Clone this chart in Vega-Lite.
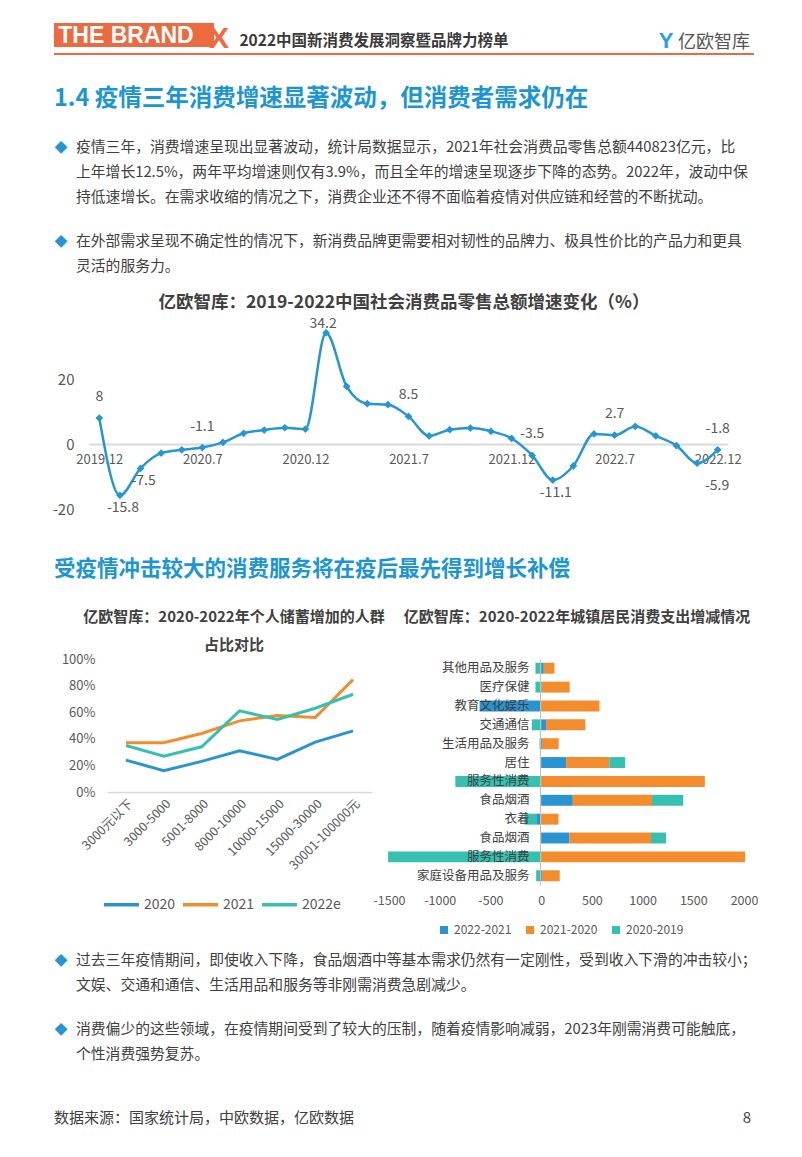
{
  "$schema": "https://vega.github.io/schema/vega-lite/v6.json",
  "padding": {"left": 52, "top": 23, "right": 0, "bottom": 0},
  "background": "white",
  "bounds": "flush",
  "spacing": 0,
  "resolve": {"scale": {"color": "independent"}, "legend": {"color": "independent"}},
  "config": {
    "view": {"stroke": null},
    "font": "Noto Sans CJK SC",
    "text": {"font": "Noto Sans CJK SC"},
    "axis": {"labelFont": "Noto Sans CJK SC"},
    "legend": {"labelFont": "Noto Sans CJK SC"}
  },
  "vconcat": [
    {
      "hconcat": [
        {
          "width": 160, "height": 24,
          "view": {"fill": "#ec6a3f", "stroke": null},
          "data": {"values": [{"t": "THE BRAND"}]},
          "mark": {"type": "text", "font": "Liberation Sans", "fontWeight": "bold", "fontSize": 23, "color": "white", "dx": -8, "dy": 1},
          "encoding": {"text": {"field": "t"}}
        },
        {
          "width": 20, "height": 24,
          "data": {"values": [{"t": "X"}]},
          "mark": {"type": "text", "font": "Liberation Sans", "fontWeight": "bold", "fontSize": 30, "color": "#ec6a3f", "dx": -5, "dy": 4},
          "encoding": {"text": {"field": "t"}}
        },
        {
          "width": 280, "height": 24,
          "data": {"values": [{"t": "2022中国新消费发展洞察暨品牌力榜单"}]},
          "mark": {"type": "text", "fontWeight": "bold", "fontSize": 15.5, "color": "#3a3a3a", "dy": 6},
          "encoding": {"text": {"field": "t"}}
        },
        {
          "width": 144, "height": 24,
          "data": {"values": [{}]},
          "mark": "text",
          "encoding": {"text": {"value": ""}}
        },
        {
          "width": 16, "height": 24,
          "data": {"values": [{"t": "Y"}]},
          "mark": {"type": "text", "font": "Liberation Sans", "fontWeight": "bold", "fontSize": 22, "color": "#2aa0da", "dy": 6},
          "encoding": {"text": {"field": "t"}}
        },
        {
          "width": 80, "height": 24,
          "data": {"values": [{"t": "亿欧智库"}]},
          "mark": {"type": "text", "fontSize": 18, "color": "#555555", "dy": 8},
          "encoding": {"text": {"field": "t"}}
        }
      ],
      "spacing": 0,
      "bounds": "flush"
    },
    {
      "width": 700, "height": 30,
      "data": {"values": [{}]},
      "mark": "text",
      "encoding": {"text": {"value": ""}}
    },
    {
      "width": 700, "height": 2,
      "view": {"fill": "#ec6a3f", "stroke": null},
      "data": {"values": [{}]},
      "mark": "text",
      "encoding": {"text": {"value": ""}}
    },
    {
      "width": 700, "height": 80,
      "data": {"values": [{"t": "1.4 疫情三年消费增速显著波动，但消费者需求仍在"}]},
      "mark": {"type": "text", "align": "left", "dx": -350, "dy": 4, "fontSize": 23.5, "fontWeight": "bold", "color": "#1c96d3"},
      "encoding": {"text": {"field": "t"}}
    },
    {
      "width": 700, "height": 76,
      "data": {"values": [
        {"line": 1, "bullet": true, "text": "疫情三年，消费增速呈现出显著波动，统计局数据显示，2021年社会消费品零售总额440823亿元，比"},
        {"line": 2, "bullet": false, "text": "上年增长12.5%，两年平均增速则仅有3.9%，而且全年的增速呈现逐步下降的态势。2022年，波动中保"},
        {"line": 3, "bullet": false, "text": "持低速增长。在需求收缩的情况之下，消费企业还不得不面临着疫情对供应链和经营的不断扰动。"}
      ]},
      "encoding": {"y": {"field": "line", "type": "ordinal", "axis": null}},
      "layer": [
        {"transform": [{"filter": "datum.bullet"}], "mark": {"type": "text", "dx": -343, "fontSize": 13, "color": "#2596d1"}, "encoding": {"text": {"value": "◆"}}},
        {"mark": {"type": "text", "align": "left", "dx": -328, "fontSize": 14.8, "color": "#404040"}, "encoding": {"text": {"field": "text"}}}
      ]
    },
    {
      "width": 700, "height": 18,
      "data": {"values": [{}]},
      "mark": "text",
      "encoding": {"text": {"value": ""}}
    },
    {
      "width": 700, "height": 51,
      "data": {"values": [
        {"line": 1, "bullet": true, "text": "在外部需求呈现不确定性的情况下，新消费品牌更需要相对韧性的品牌力、极具性价比的产品力和更具"},
        {"line": 2, "bullet": false, "text": "灵活的服务力。"}
      ]},
      "encoding": {"y": {"field": "line", "type": "ordinal", "axis": null}},
      "layer": [
        {"transform": [{"filter": "datum.bullet"}], "mark": {"type": "text", "dx": -343, "fontSize": 13, "color": "#2596d1"}, "encoding": {"text": {"value": "◆"}}},
        {"mark": {"type": "text", "align": "left", "dx": -328, "fontSize": 14.8, "color": "#404040"}, "encoding": {"text": {"field": "text"}}}
      ]
    },
    {
      "width": 700, "height": 34,
      "data": {"values": [{"t": "亿欧智库：2019-2022中国社会消费品零售总额增速变化（%）"}]},
      "mark": {"type": "text", "dy": 6, "fontSize": 17.5, "fontWeight": "bold", "color": "#404040"},
      "encoding": {"text": {"field": "t"}}
    },
    {
      "width": 700, "height": 195,
      "data": {"values": [
        {"m": "2019.12", "v": 8, "show": true},
        {"m": "2020.3", "v": -15.8, "show": true},
        {"m": "2020.4", "v": -7.5, "show": true},
        {"m": "2020.5", "v": -2.8, "show": false},
        {"m": "2020.6", "v": -1.8, "show": false},
        {"m": "2020.7", "v": -1.1, "show": true},
        {"m": "2020.8", "v": 0.5, "show": false},
        {"m": "2020.9", "v": 3.3, "show": false},
        {"m": "2020.10", "v": 4.3, "show": false},
        {"m": "2020.11", "v": 5.0, "show": false},
        {"m": "2020.12", "v": 4.6, "show": false},
        {"m": "2021.3", "v": 34.2, "show": true},
        {"m": "2021.4", "v": 17.7, "show": false},
        {"m": "2021.5", "v": 12.4, "show": false},
        {"m": "2021.6", "v": 12.1, "show": false},
        {"m": "2021.7", "v": 8.5, "show": true},
        {"m": "2021.8", "v": 2.5, "show": false},
        {"m": "2021.9", "v": 4.4, "show": false},
        {"m": "2021.10", "v": 4.9, "show": false},
        {"m": "2021.11", "v": 3.9, "show": false},
        {"m": "2021.12", "v": 1.7, "show": false},
        {"m": "2022.3", "v": -3.5, "show": true},
        {"m": "2022.4", "v": -11.1, "show": true},
        {"m": "2022.5", "v": -6.7, "show": false},
        {"m": "2022.6", "v": 3.1, "show": false},
        {"m": "2022.7", "v": 2.7, "show": true},
        {"m": "2022.8", "v": 5.4, "show": false},
        {"m": "2022.9", "v": 2.5, "show": false},
        {"m": "2022.10", "v": -0.5, "show": false},
        {"m": "2022.11", "v": -5.9, "show": true},
        {"m": "2022.12", "v": -1.8, "show": true}
      ]},
      "encoding": {
        "x": {
          "field": "m", "type": "ordinal", "sort": null,
          "scale": {"type": "point", "range": [35, 674], "padding": 0.5},
          "axis": {"values": ["2019.12", "2020.7", "2020.12", "2021.7", "2021.12", "2022.7", "2022.12"], "offset": -65, "domainColor": "#d9d9d9", "domainWidth": 2, "ticks": false, "labelAngle": 0, "labelPadding": 9, "labelFontSize": 13, "labelColor": "#595959", "title": null, "grid": false}
        },
        "y": {
          "field": "v", "type": "quantitative",
          "scale": {"domain": [-20, 40], "nice": false},
          "axis": {"values": [-20, 0, 20], "labelExpr": "'' + datum.value", "offset": -35, "domain": false, "ticks": false, "grid": false, "labelPadding": 15, "labelFontSize": 15, "labelColor": "#595959", "title": null}
        }
      },
      "layer": [
        {"mark": {"type": "line", "interpolate": "monotone", "color": "#2596d1", "strokeWidth": 2.5}},
        {"mark": {"type": "point", "shape": "diamond", "filled": true, "size": 60, "color": "#2596d1", "opacity": 1}},
        {"transform": [{"filter": "datum.show && datum.v > -5 && datum.v < 30"}], "mark": {"type": "text", "dy": -21, "fontSize": 14, "color": "#595959"}, "encoding": {"text": {"field": "v", "type": "nominal"}}},
        {"transform": [{"filter": "datum.show && datum.v >= 30"}], "mark": {"type": "text", "dy": -9, "dx": -3, "fontSize": 14, "color": "#595959"}, "encoding": {"text": {"field": "v", "type": "nominal"}}},
        {"transform": [{"filter": "datum.show && datum.v <= -7"}], "mark": {"type": "text", "dy": 13, "dx": 3, "fontSize": 14, "color": "#595959"}, "encoding": {"text": {"field": "v", "type": "nominal"}}},
        {"transform": [{"filter": "datum.show && datum.v > -7 && datum.v <= -5"}], "mark": {"type": "text", "dy": 23, "dx": 20, "fontSize": 14, "color": "#595959"}, "encoding": {"text": {"field": "v", "type": "nominal"}}}
      ]
    },
    {
      "width": 700, "height": 94,
      "data": {"values": [{"t": "受疫情冲击较大的消费服务将在疫后最先得到增长补偿"}]},
      "mark": {"type": "text", "align": "left", "dx": -350, "dy": 14, "fontSize": 21.5, "fontWeight": "bold", "color": "#1c96d3"},
      "encoding": {"text": {"field": "t"}}
    },
    {
      "hconcat": [
        {
          "width": 360, "height": 56,
          "data": {"values": [{"line": 1, "t": "亿欧智库：2020-2022年个人储蓄增加的人群"}, {"line": 2, "t": "占比对比"}]},
          "mark": {"type": "text", "fontSize": 15, "fontWeight": "bold", "color": "#404040"},
          "encoding": {"y": {"field": "line", "type": "ordinal", "axis": null}, "text": {"field": "t"}}
        },
        {
          "width": 326, "height": 28,
          "data": {"values": [{"t": "亿欧智库：2020-2022年城镇居民消费支出增减情况"}]},
          "mark": {"type": "text", "fontSize": 15, "fontWeight": "bold", "color": "#404040"},
          "encoding": {"text": {"field": "t"}}
        }
      ],
      "spacing": 0,
      "bounds": "flush"
    },
    {
      "width": 700, "height": 56,
      "data": {"values": [{}]},
      "mark": "text",
      "encoding": {"text": {"value": ""}}
    },
    {
      "hconcat": [
        {
          "width": 53, "height": 10,
          "data": {"values": [{}]},
          "mark": "text",
          "encoding": {"text": {"value": ""}}
        },
        {
          "width": 265, "height": 133,
          "data": {"values": [
            {"income": "3000元以下", "year": "2020", "share": 0.24},
            {"income": "3000-5000", "year": "2020", "share": 0.16},
            {"income": "5001-8000", "year": "2020", "share": 0.23},
            {"income": "8000-10000", "year": "2020", "share": 0.31},
            {"income": "10000-15000", "year": "2020", "share": 0.245},
            {"income": "15000-30000", "year": "2020", "share": 0.375},
            {"income": "30001-100000元", "year": "2020", "share": 0.46},
            {"income": "3000元以下", "year": "2021", "share": 0.37},
            {"income": "3000-5000", "year": "2021", "share": 0.37},
            {"income": "5001-8000", "year": "2021", "share": 0.44},
            {"income": "8000-10000", "year": "2021", "share": 0.535},
            {"income": "10000-15000", "year": "2021", "share": 0.575},
            {"income": "15000-30000", "year": "2021", "share": 0.56},
            {"income": "30001-100000元", "year": "2021", "share": 0.845},
            {"income": "3000元以下", "year": "2022e", "share": 0.35},
            {"income": "3000-5000", "year": "2022e", "share": 0.27},
            {"income": "5001-8000", "year": "2022e", "share": 0.34},
            {"income": "8000-10000", "year": "2022e", "share": 0.61},
            {"income": "10000-15000", "year": "2022e", "share": 0.545},
            {"income": "15000-30000", "year": "2022e", "share": 0.63},
            {"income": "30001-100000元", "year": "2022e", "share": 0.735}
          ]},
          "mark": {"type": "line", "strokeWidth": 3},
          "encoding": {
            "x": {
              "field": "income", "type": "ordinal",
              "sort": ["3000元以下", "3000-5000", "5001-8000", "8000-10000", "10000-15000", "15000-30000", "30001-100000元"],
              "axis": {"labelAngle": -45, "labelFontSize": 12.5, "labelColor": "#595959", "domainColor": "#d9d9d9", "domainWidth": 1.5, "ticks": false, "labelPadding": 5, "title": null, "labelOverlap": false}
            },
            "y": {
              "field": "share", "type": "quantitative",
              "scale": {"domain": [0, 1], "nice": false},
              "axis": {"values": [0, 0.2, 0.4, 0.6, 0.8, 1], "format": ".0%", "domain": false, "ticks": false, "grid": false, "labelPadding": 12, "labelFontSize": 13, "labelColor": "#595959", "title": null}
            },
            "color": {
              "field": "year", "type": "nominal",
              "scale": {"domain": ["2020", "2021", "2022e"], "range": ["#2a94d1", "#f28c2c", "#35c0b0"]},
              "legend": {"orient": "none", "legendX": -5, "legendY": 226, "direction": "horizontal", "title": null, "symbolType": "stroke", "symbolSize": 1225, "symbolStrokeWidth": 3.5, "labelFontSize": 14, "labelColor": "#595959", "labelOffset": 3, "columnPadding": 0}
            }
          }
        },
        {
          "width": 17, "height": 10,
          "data": {"values": [{}]},
          "mark": "text",
          "encoding": {"text": {"value": ""}}
        },
        {
          "width": 355, "height": 226,
          "data": {"values": [
            {"item": "01 其他用品及服务", "period": "2022-2021", "val": 26},
            {"item": "01 其他用品及服务", "period": "2021-2020", "val": 105},
            {"item": "01 其他用品及服务", "period": "2020-2019", "val": -56},
            {"item": "02 医疗保健", "period": "2022-2021", "val": 6},
            {"item": "02 医疗保健", "period": "2021-2020", "val": 275},
            {"item": "02 医疗保健", "period": "2020-2019", "val": -56},
            {"item": "03 教育文化娱乐", "period": "2022-2021", "val": -607},
            {"item": "03 教育文化娱乐", "period": "2021-2020", "val": 575},
            {"item": "04 交通通信", "period": "2022-2021", "val": 49},
            {"item": "04 交通通信", "period": "2021-2020", "val": 387},
            {"item": "04 交通通信", "period": "2020-2019", "val": -92},
            {"item": "05 生活用品及服务", "period": "2022-2021", "val": 8},
            {"item": "05 生活用品及服务", "period": "2021-2020", "val": 165},
            {"item": "05 生活用品及服务", "period": "2020-2019", "val": -16},
            {"item": "06 居住", "period": "2022-2021", "val": 246},
            {"item": "06 居住", "period": "2021-2020", "val": 426},
            {"item": "06 居住", "period": "2020-2019", "val": 157},
            {"item": "07 服务性消费", "period": "2021-2020", "val": 1614},
            {"item": "07 服务性消费", "period": "2020-2019", "val": -846},
            {"item": "08 食品烟酒", "period": "2022-2021", "val": 312},
            {"item": "08 食品烟酒", "period": "2021-2020", "val": 781},
            {"item": "08 食品烟酒", "period": "2020-2019", "val": 308},
            {"item": "09 衣着", "period": "2022-2021", "val": -49},
            {"item": "09 衣着", "period": "2021-2020", "val": 171},
            {"item": "09 衣着", "period": "2020-2019", "val": -115},
            {"item": "10 食品烟酒", "period": "2022-2021", "val": 279},
            {"item": "10 食品烟酒", "period": "2021-2020", "val": 804},
            {"item": "10 食品烟酒", "period": "2020-2019", "val": 148},
            {"item": "11 服务性消费", "period": "2021-2020", "val": 2011},
            {"item": "11 服务性消费", "period": "2020-2019", "val": -1509},
            {"item": "12 家庭设备用品及服务", "period": "2022-2021", "val": 8},
            {"item": "12 家庭设备用品及服务", "period": "2021-2020", "val": 175},
            {"item": "12 家庭设备用品及服务", "period": "2020-2019", "val": -49}
          ]},
          "mark": {"type": "bar"},
          "encoding": {
            "y": {
              "field": "item", "type": "nominal", "sort": "ascending",
              "scale": {"paddingInner": 0.42, "paddingOuter": 0.2},
              "axis": {"labelExpr": "substring(datum.label, 3)", "offset": -151, "domainColor": "#bfbfbf", "ticks": false, "labelPadding": 11, "labelFontSize": 12.5, "labelColor": "#404040", "title": null, "zindex": 1, "grid": false}
            },
            "x": {
              "field": "val", "type": "quantitative",
              "scale": {"domain": [-1500, 2000], "nice": false},
              "axis": {"values": [-1500, -1000, -500, 0, 500, 1000, 1500, 2000], "labelExpr": "'' + datum.value", "labelFlush": false, "labelOverlap": false, "domain": false, "ticks": false, "grid": false, "labelPadding": 9, "labelFontSize": 12.5, "labelColor": "#595959", "title": null}
            },
            "color": {
              "field": "period", "type": "nominal",
              "scale": {"domain": ["2022-2021", "2021-2020", "2020-2019"], "range": ["#2a94d1", "#f28c2c", "#35c0b0"]},
              "legend": {"orient": "none", "legendX": 49, "legendY": 265, "direction": "horizontal", "title": null, "symbolType": "square", "symbolSize": 64, "labelFontSize": 12, "labelColor": "#595959", "columnPadding": 12}
            },
            "order": {"field": "period", "sort": "descending"}
          }
        }
      ],
      "spacing": 0,
      "bounds": "flush",
      "resolve": {"scale": {"color": "independent"}, "legend": {"color": "independent"}}
    },
    {
      "width": 700, "height": 289,
      "data": {"values": [{}]},
      "mark": "text",
      "encoding": {"text": {"value": ""}}
    },
    {
      "width": 700, "height": 51,
      "data": {"values": [
        {"line": 1, "bullet": true, "text": "过去三年疫情期间，即使收入下降，食品烟酒中等基本需求仍然有一定刚性，受到收入下滑的冲击较小；"},
        {"line": 2, "bullet": false, "text": "文娱、交通和通信、生活用品和服务等非刚需消费急剧减少。"}
      ]},
      "encoding": {"y": {"field": "line", "type": "ordinal", "axis": null}},
      "layer": [
        {"transform": [{"filter": "datum.bullet"}], "mark": {"type": "text", "dx": -343, "fontSize": 13, "color": "#2596d1"}, "encoding": {"text": {"value": "◆"}}},
        {"mark": {"type": "text", "align": "left", "dx": -328, "fontSize": 14.8, "color": "#404040"}, "encoding": {"text": {"field": "text"}}}
      ]
    },
    {
      "width": 700, "height": 18,
      "data": {"values": [{}]},
      "mark": "text",
      "encoding": {"text": {"value": ""}}
    },
    {
      "width": 700, "height": 51,
      "data": {"values": [
        {"line": 1, "bullet": true, "text": "消费偏少的这些领域，在疫情期间受到了较大的压制，随着疫情影响减弱，2023年刚需消费可能触底，"},
        {"line": 2, "bullet": false, "text": "个性消费强势复苏。"}
      ]},
      "encoding": {"y": {"field": "line", "type": "ordinal", "axis": null}},
      "layer": [
        {"transform": [{"filter": "datum.bullet"}], "mark": {"type": "text", "dx": -343, "fontSize": 13, "color": "#2596d1"}, "encoding": {"text": {"value": "◆"}}},
        {"mark": {"type": "text", "align": "left", "dx": -328, "fontSize": 14.8, "color": "#404040"}, "encoding": {"text": {"field": "text"}}}
      ]
    },
    {
      "width": 700, "height": 32,
      "data": {"values": [{}]},
      "mark": "text",
      "encoding": {"text": {"value": ""}}
    },
    {
      "width": 700, "height": 36,
      "data": {"values": [
        {"role": "source", "text": "数据来源：国家统计局，中欧数据，亿欧数据"},
        {"role": "page", "text": "8"}
      ]},
      "layer": [
        {"transform": [{"filter": "datum.role === 'source'"}], "mark": {"type": "text", "align": "left", "dx": -350, "fontSize": 15, "color": "#404040"}, "encoding": {"text": {"field": "text"}}},
        {"transform": [{"filter": "datum.role === 'page'"}], "mark": {"type": "text", "dx": 343, "fontSize": 15, "color": "#404040"}, "encoding": {"text": {"field": "text"}}}
      ]
    }
  ]
}
